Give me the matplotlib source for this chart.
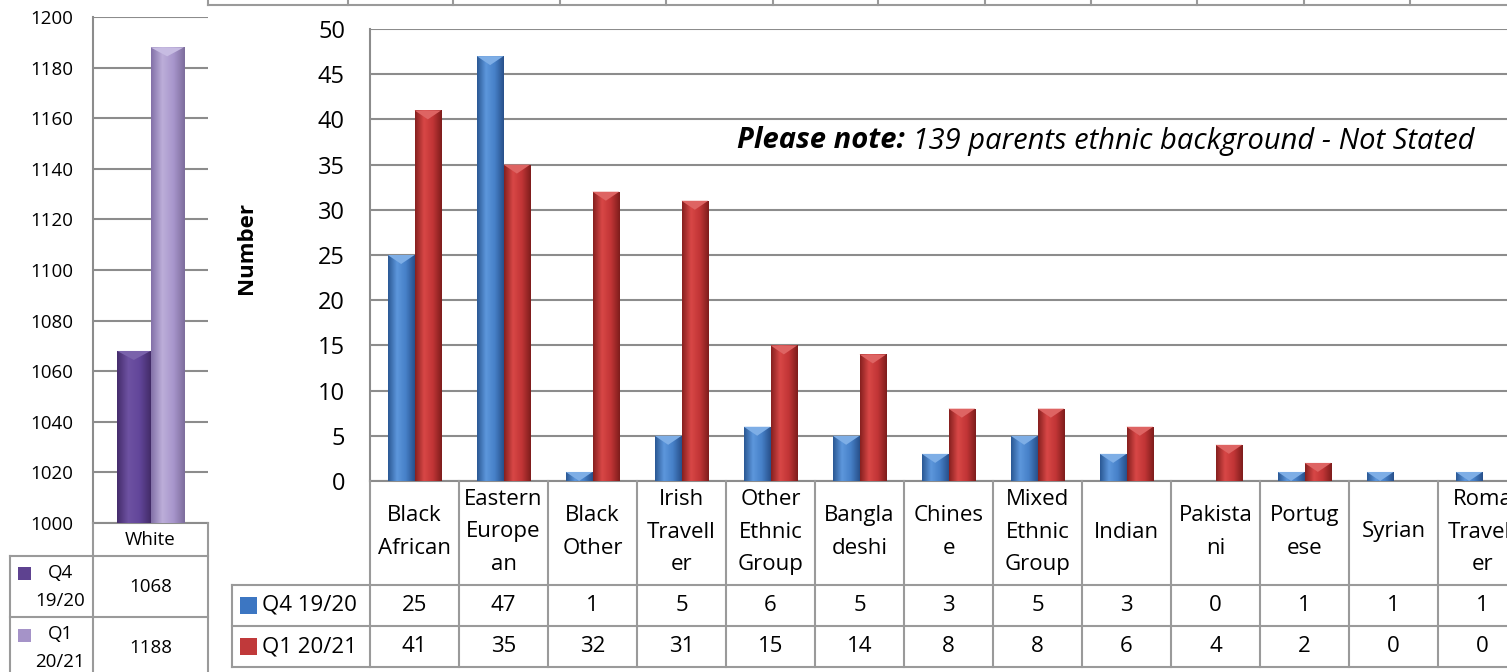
import numpy as np
import matplotlib
matplotlib.use('Agg')
import matplotlib.pyplot as plt
from matplotlib.lines import Line2D
from matplotlib.patches import Rectangle, Polygon
from matplotlib.colors import LinearSegmentedColormap
from matplotlib import transforms

plt.rcParams['font.family'] = ['Open Sans', 'DejaVu Sans']

# ---- data ----
groups = ['Black\nAfrican', 'Eastern\nEurope\nan', 'Black\nOther', 'Irish\nTravell\ner',
          'Other\nEthnic\nGroup', 'Bangla\ndeshi', 'Chines\ne', 'Mixed\nEthnic\nGroup',
          'Indian', 'Pakista\nni', 'Portug\nese', 'Syrian', 'Roma\nTravell\ner']
q4_1920 = [25, 47, 1, 5, 6, 5, 3, 5, 3, 0, 1, 1, 1]
q1_2021 = [41, 35, 32, 31, 15, 14, 8, 8, 6, 4, 2, 0, 0]
series_names = ['Q4 19/20', 'Q1 20/21']

white_group = ['White']
white_q4 = [1068]
white_q1 = [1188]
white_rows = ['Q4\n19/20', 'Q1\n20/21']

note_bold = 'Please note:'
note_rest = ' 139 parents ethnic background - Not Stated'

# ---- layout (reference pixels) ----
W, H = 1507, 672
fig = plt.figure(figsize=(W / 100, H / 100), dpi=100)


def fx(p):
    return p / W


def fy(p):
    return 1 - p / H


GRID = '#8c8c8c'
TLINE = '#9a9a9a'


def fig_line(xs, ys, tr=None, color=TLINE, lw=1.5):
    if tr is None:
        tr = fig.transFigure
    fig.add_artist(Line2D(xs, ys, transform=tr, color=color, lw=lw, clip_on=False))


def shade(ax, bars, colors, light, bevel_px=9):
    # cylinder-ish gradient plus a bevel on top, like the office 3d bars
    cmap = LinearSegmentedColormap.from_list('c', colors)
    grad = np.linspace(0, 1, 100).reshape(1, -1)
    y0, y1 = ax.get_ylim()
    per_unit = ax.get_position().height * H / (y1 - y0)
    for b in bars:
        x, y = b.get_xy()
        w, h = b.get_width(), b.get_height()
        top = y + h
        if top <= y0:
            continue
        im = ax.imshow(grad, cmap=cmap, extent=(x, x + w, y0, top), aspect='auto',
                       zorder=3, interpolation='bilinear')
        im.set_clip_path(b)
        d = min(bevel_px / per_unit, top - y0)
        ax.add_patch(Polygon([(x, top), (x + w, top), (x + w / 2, top - d)], closed=True,
                             facecolor=light, edgecolor='none', zorder=4))


# ---- top strip (bottom of a table cut off above) ----
fig_line([fx(208), fx(1507)], [fy(5), fy(5)])
for xp in [208, 348, 453, 560, 666, 773, 878, 985, 1091, 1197, 1304, 1410]:
    fig_line([fx(xp), fx(xp)], [fy(0), fy(5)])

# ---- left chart: White ----
ax1 = fig.add_axes([fx(93), fy(523), 115 / W, (523 - 17) / H])
bw1 = 0.29
b1 = ax1.bar([-bw1 / 2], white_q4, width=bw1, color='none', zorder=2)
b2 = ax1.bar([bw1 / 2], white_q1, width=bw1, color='none', zorder=2)
ax1.set_ylim(1000, 1200)
shade(ax1, b1, ['#452c6c', '#6e52a2', '#62469a', '#432c68'], '#7a62ab')
shade(ax1, b2, ['#8371a8', '#bcaed9', '#a896cc', '#7d6d9c'], '#c7bce2')
ax1.set_xlim(-0.5, 0.5)
ax1.set_ylim(1000, 1200)
ax1.set_yticks(np.arange(1000, 1201, 20))
ax1.set_xticks([])
ax1.grid(axis='y', color=GRID, lw=1.5, zorder=0)
ax1.set_axisbelow(True)
for s in ['right', 'top']:
    ax1.spines[s].set_visible(False)
for s in ['left', 'bottom']:
    ax1.spines[s].set_color(GRID)
    ax1.spines[s].set_linewidth(1.5)
ax1.tick_params(axis='y', length=0, pad=14, labelsize=13.5)

# left table
fig_line([fx(208), fx(208)], [fy(523), fy(672)])
fig_line([fx(93), fx(93)], [fy(523), fy(672)])
fig_line([fx(10), fx(10)], [fy(556), fy(672)])
for yp in [556, 617]:
    fig_line([fx(10), fx(208)], [fy(yp), fy(yp)])
fig.text(fx(150.5), fy(540), white_group[0], ha='center', va='center', fontsize=13.5)
for lab, val, col, yc, ym in zip(white_rows, [white_q4[0], white_q1[0]],
                                 ['#5e4290', '#a593c8'], [587, 648], [573, 635]):
    fig.text(fx(60), fy(yc), lab, ha='center', va='center', fontsize=13.5, linespacing=1.75)
    fig.text(fx(150.5), fy(yc), str(val), ha='center', va='center', fontsize=13.5)
    fig.add_artist(Rectangle((fx(18), fy(ym + 6.5)), 13 / W, 13 / H, transform=fig.transFigure,
                             facecolor=col, edgecolor='none'))

# ---- right chart ----
ncat = len(groups)
colw = 89
ax2 = fig.add_axes([fx(370), fy(481), ncat * colw / W, (481 - 29) / H])
x = np.arange(ncat)
bw = 0.3
r1 = ax2.bar(x - bw / 2, q4_1920, width=bw, color='none', zorder=2)
r2 = ax2.bar(x + bw / 2, q1_2021, width=bw, color='none', zorder=2)
ax2.set_ylim(0, 50)
shade(ax2, r1, ['#2a5894', '#5d97dc', '#4680c8', '#28508a'], '#7eaee6')
shade(ax2, r2, ['#86201f', '#d84746', '#c13536', '#7e1d1c'], '#de6463')
ax2.set_xlim(-0.5, ncat - 0.5)
ax2.set_ylim(0, 50)
ax2.set_yticks(np.arange(0, 51, 5))
ax2.set_xticks([])
ax2.grid(axis='y', color=GRID, lw=1.5, zorder=0)
ax2.set_axisbelow(True)
for s in ['right', 'top']:
    ax2.spines[s].set_visible(False)
for s in ['left', 'bottom']:
    ax2.spines[s].set_color(GRID)
    ax2.spines[s].set_linewidth(1.5)
ax2.tick_params(axis='y', length=0, pad=18, labelsize=17)

fig.text(fx(247), fy(248), 'Number', rotation=90, ha='center', va='center',
         fontsize=16, fontweight='bold')

# right table
blend = transforms.blended_transform_factory(ax2.transData, fig.transFigure)
for i in range(ncat + 1):
    fig_line([i - 0.5, i - 0.5], [fy(481), fy(667)], tr=blend)
fig_line([fx(232), fx(232)], [fy(585), fy(667)])
for yp in [585, 626, 667]:
    fig_line([fx(232), fx(1507)], [fy(yp), fy(yp)])
for i, g in enumerate(groups):
    fig.text(i, fy(532), g, transform=blend, ha='center', va='center', fontsize=16,
             linespacing=1.7)
for name, vals, col, yc in zip(series_names, [q4_1920, q1_2021], ['#3c76c2', '#c0393a'],
                               [605.5, 646.5]):
    fig.add_artist(Rectangle((fx(240), fy(yc + 8)), 17 / W, 17 / H, transform=fig.transFigure,
                             facecolor=col, edgecolor='none'))
    fig.text(fx(262), fy(yc), name, ha='left', va='center', fontsize=16)
    for i, v in enumerate(vals):
        fig.text(i, fy(yc), str(v), transform=blend, ha='center', va='center', fontsize=16)

# note
t1 = fig.text(fx(737), fy(141), note_bold, ha='left', va='center', fontsize=21,
              fontweight='bold', fontstyle='italic')
fig.canvas.draw()
bb = t1.get_window_extent()
fig.text(bb.x1 / W, fy(141), note_rest, ha='left', va='center', fontsize=21,
         fontstyle='italic')

fig.savefig('out.png', dpi=100)
